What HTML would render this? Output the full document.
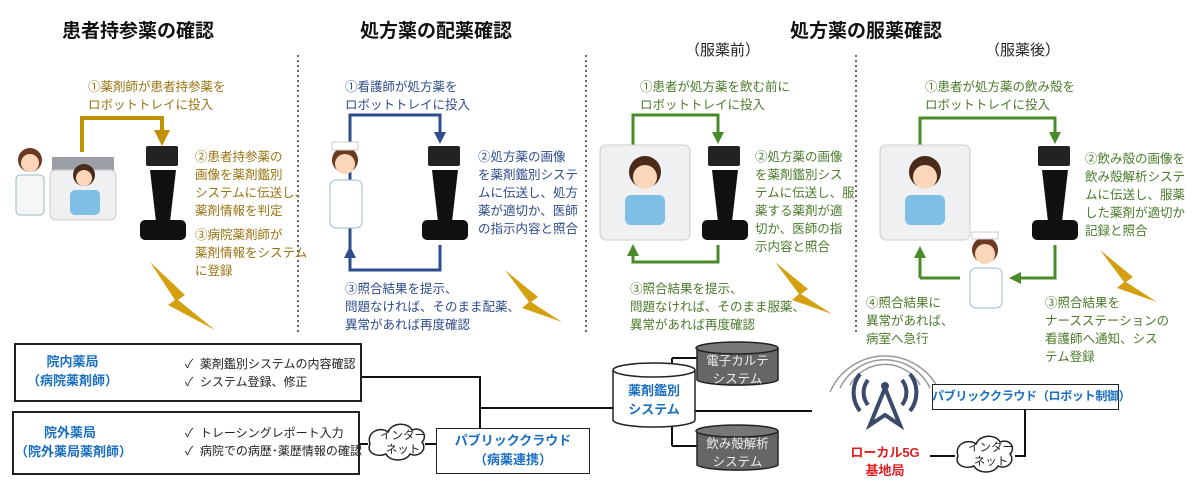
<!DOCTYPE html><html><head><meta charset="utf-8"><style>
body{margin:0;width:1200px;height:483px;background:#fff;overflow:hidden;position:relative;font-family:"Liberation Sans","Noto Sans CJK JP",sans-serif}
.t{position:absolute;font-size:12.5px;line-height:18px;white-space:nowrap}
.h{position:absolute;font-size:19px;font-weight:bold;color:#111;white-space:nowrap}
.g{color:#9a7412}.b{color:#2e4c8c}.gr{color:#4a7a2a}
.box{position:absolute;border:2px solid #222;background:#fff}
.bl{color:#1a6fc0;font-weight:bold;font-size:13px;text-align:center;line-height:19px}
svg{position:absolute;left:0;top:0}
</style></head><body>
<svg width="1200" height="483">
<defs>
<marker id="ag" markerWidth="4" markerHeight="4" refX="2" refY="2" orient="auto"><path d="M0,0L4,2L0,4z" fill="#c09000"/></marker>
<marker id="ab" markerWidth="4" markerHeight="4" refX="2" refY="2" orient="auto"><path d="M0,0L4,2L0,4z" fill="#2e4c8c"/></marker>
<marker id="an" markerWidth="4" markerHeight="4" refX="2" refY="2" orient="auto"><path d="M0,0L4,2L0,4z" fill="#4a8a2a"/></marker>
</defs>
<g stroke="#666" stroke-width="2" stroke-dasharray="2,3">
<line x1="298" y1="55" x2="298" y2="335"/><line x1="586" y1="55" x2="586" y2="335"/><line x1="856" y1="55" x2="856" y2="335"/></g>
<path d="M82,152V118H162V138" fill="none" stroke="#c09000" stroke-width="4" marker-end="url(#ag)"/>
<path d="M350,250V115H440V138" fill="none" stroke="#2e4c8c" stroke-width="3" marker-end="url(#ab)"/>
<path d="M440,245V270H350V252" fill="none" stroke="#2e4c8c" stroke-width="3" marker-end="url(#ab)"/>
<path d="M633,145V115H718V138" fill="none" stroke="#4a8a2a" stroke-width="3" marker-end="url(#an)"/>
<path d="M718,245V262H633V250" fill="none" stroke="#4a8a2a" stroke-width="3" marker-end="url(#an)"/>
<path d="M920,145V118H1055V138" fill="none" stroke="#4a8a2a" stroke-width="3" marker-end="url(#an)"/>
<path d="M1055,245V278H1015" fill="none" stroke="#4a8a2a" stroke-width="3" marker-end="url(#an)"/>
<path d="M920,278H960" fill="none" stroke="#4a8a2a" stroke-width="3"/>
<path d="M920,278V252" fill="none" stroke="#4a8a2a" stroke-width="3" marker-end="url(#an)"/>
<g fill="#d4a010">
<path d="M150,262L185,295L178,300L215,330L168,305L175,300Z"/>
<path d="M505,270L538,297L531,302L562,322L522,308L529,302Z"/>
<path d="M775,262L808,289L801,294L832,314L792,300L799,294Z"/>
<path d="M1100,250L1133,277L1126,282L1157,302L1117,288L1124,282Z"/>
</g>
<g>
<circle cx="30" cy="160" r="12" fill="#6b3a22"/><circle cx="30" cy="163" r="9" fill="#fbd6b8"/><rect x="16" y="175" width="28" height="40" rx="4" fill="#f4f6f8" stroke="#9bb"/>
<rect x="52" y="157" width="62" height="15" fill="#9aa0a6"/><rect x="50" y="170" width="66" height="50" rx="6" fill="#eef0f2" stroke="#ccc"/><circle cx="84" cy="175" r="11" fill="#4a2a1a"/><circle cx="84" cy="178" r="8" fill="#fbd6b8"/><rect x="70" y="190" width="30" height="25" rx="5" fill="#7fbfe6"/>
<rect x="146" y="146" width="32" height="20" rx="2" fill="#222"/><path d="M150,170H176L170,222H156Z" fill="#111"/><rect x="140" y="220" width="46" height="20" rx="5" fill="#111"/>
<circle cx="345" cy="160" r="13" fill="#6b3a22"/><circle cx="345" cy="164" r="10" fill="#fbd6b8"/><rect x="332" y="142" width="26" height="8" fill="#fff" stroke="#ccc"/><rect x="330" y="180" width="32" height="48" rx="6" fill="#fff" stroke="#9bc"/>
<rect x="428" y="146" width="32" height="20" rx="2" fill="#222"/><path d="M432,170H458L452,222H438Z" fill="#111"/><rect x="422" y="220" width="46" height="20" rx="5" fill="#111"/>
<rect x="600" y="145" width="90" height="95" rx="6" fill="#eef0f2" stroke="#ccc"/><circle cx="645" cy="172" r="16" fill="#4a2a1a"/><circle cx="645" cy="177" r="12" fill="#fbd6b8"/><rect x="625" y="195" width="40" height="30" rx="6" fill="#7fbfe6"/>
<rect x="708" y="146" width="32" height="20" rx="2" fill="#222"/><path d="M712,170H738L732,222H718Z" fill="#111"/><rect x="702" y="220" width="46" height="20" rx="5" fill="#111"/>
<rect x="880" y="145" width="90" height="95" rx="6" fill="#eef0f2" stroke="#ccc"/><circle cx="925" cy="172" r="16" fill="#4a2a1a"/><circle cx="925" cy="177" r="12" fill="#fbd6b8"/><rect x="905" y="195" width="40" height="30" rx="6" fill="#7fbfe6"/>
<rect x="1038" y="146" width="32" height="20" rx="2" fill="#222"/><path d="M1042,170H1068L1062,222H1048Z" fill="#111"/><rect x="1032" y="220" width="46" height="20" rx="5" fill="#111"/>
<circle cx="985" cy="250" r="13" fill="#6b3a22"/><circle cx="985" cy="254" r="10" fill="#fbd6b8"/><rect x="972" y="232" width="26" height="7" fill="#fff" stroke="#ccc"/><rect x="970" y="268" width="32" height="40" rx="6" fill="#fff" stroke="#9bc"/>
<circle cx="160" cy="360" r="10" fill="#223"/><circle cx="160" cy="364" r="8" fill="#fbd6b8"/><rect x="145" y="375" width="30" height="20" fill="#dde8f0"/><rect x="165" y="372" width="28" height="20" fill="#9aa4ae"/>
<circle cx="160" cy="425" r="10" fill="#4a2a1a"/><circle cx="160" cy="429" r="8" fill="#fbd6b8"/><rect x="145" y="440" width="30" height="20" fill="#dde8f0"/><rect x="165" y="437" width="28" height="20" fill="#9aa4ae"/>
</g>
<g stroke="#111" stroke-width="2" fill="none">
<path d="M360,377H480V428"/><path d="M480,408H615"/><path d="M358,444H368"/><path d="M425,444H437"/>
<path d="M672,358V446M672,358H700M672,446H700"/><path d="M695,411H812"/>
<path d="M1025,410V456H1015"/><path d="M955,456H930"/>
</g>
<path d="M370,444c-4-12,10-18,18-12c4-10,20-10,24-2c10-4,16,6,10,12c6,8-4,16-12,12c-4,8-20,8-24,0c-10,4-20-2-16-10z" fill="#fff" stroke="#222" stroke-width="1.5"/>
<path d="M958,456c-4-12,10-18,18-12c4-10,20-10,24-2c10-4,16,6,10,12c6,8-4,16-12,12c-4,8-20,8-24,0c-10,4-20-2-16-10z" fill="#fff" stroke="#222" stroke-width="1.5"/>
<g stroke="#222" stroke-width="1.5">
<path d="M613,370V420A41,7 0 0 0 695,420V370" fill="#fff"/><ellipse cx="654" cy="370" rx="41" ry="7" fill="#fff"/>
<path d="M697,348V380A41,6 0 0 0 778,380V348" fill="#666"/><ellipse cx="737" cy="348" rx="41" ry="6" fill="#777"/>
<path d="M697,431V465A41,6 0 0 0 778,465V431" fill="#666"/><ellipse cx="737" cy="431" rx="41" ry="6" fill="#777"/>
</g>
<g fill="none" stroke="#999" stroke-width="1.5">
<path d="M850,385a40,40 0 0 1 70,0M840,388a50,50 0 0 1 90,0M830,392a60,60 0 0 1 110,0"/></g>
<g fill="none" stroke="#3a4a6a" stroke-width="4">
<path d="M868,380a20,20 0 0 0 0,25M902,380a20,20 0 0 1 0,25M860,374a30,30 0 0 0 0,37M910,374a30,30 0 0 1 0,37"/>
<path d="M885,388L870,425L885,415L900,425Z"/></g>
<circle cx="885" cy="386" r="4" fill="#3a4a6a"/>
</svg>
<div class="h" style="left:62px;top:16px">患者持参薬の確認</div>
<div class="h" style="left:360px;top:16px">処方薬の配薬確認</div>
<div class="h" style="left:790px;top:16px">処方薬の服薬確認</div>
<div class="t" style="left:685px;top:42px;font-size:15px;color:#222">（服薬前）</div>
<div class="t" style="left:985px;top:42px;font-size:15px;color:#222">（服薬後）</div>
<div class="t g" style="left:88px;top:78px">①薬剤師が患者持参薬を<br>ロボットトレイに投入</div>
<div class="t g" style="left:195px;top:148px">②患者持参薬の<br>画像を薬剤鑑別<br>システムに伝送し、<br>薬剤情報を判定</div>
<div class="t g" style="left:195px;top:226px">③病院薬剤師が<br>薬剤情報をシステム<br>に登録</div>
<div class="t b" style="left:345px;top:78px">①看護師が処方薬を<br>ロボットトレイに投入</div>
<div class="t b" style="left:478px;top:148px">②処方薬の画像<br>を薬剤鑑別システ<br>ムに伝送し、処方<br>薬が適切か、医師<br>の指示内容と照合</div>
<div class="t b" style="left:345px;top:280px">③照合結果を提示、<br>問題なければ、そのまま配薬、<br>異常があれば再度確認</div>
<div class="t gr" style="left:640px;top:78px">①患者が処方薬を飲む前に<br>ロボットトレイに投入</div>
<div class="t gr" style="left:755px;top:148px">②処方薬の画像<br>を薬剤鑑別シス<br>テムに伝送し、服<br>薬する薬剤が適<br>切か、医師の指<br>示内容と照合</div>
<div class="t gr" style="left:630px;top:280px">③照合結果を提示、<br>問題なければ、そのまま服薬、<br>異常があれば再度確認</div>
<div class="t gr" style="left:925px;top:78px">①患者が処方薬の飲み殻を<br>ロボットトレイに投入</div>
<div class="t gr" style="left:1085px;top:150px">②飲み殻の画像を<br>飲み殻解析システ<br>ムに伝送し、服薬<br>した薬剤が適切か<br>記録と照合</div>
<div class="t gr" style="left:866px;top:294px">④照合結果に<br>異常があれば、<br>病室へ急行</div>
<div class="t gr" style="left:1045px;top:294px">③照合結果を<br>ナースステーションの<br>看護師へ通知、シス<br>テム登録</div>
<div class="box" style="left:14px;top:343px;width:344px;height:55px"></div>
<div class="box" style="left:12px;top:411px;width:344px;height:60px"></div>
<div class="t bl" style="left:25px;top:352px;width:95px">院内薬局<br>（病院薬剤師）</div>
<div class="t bl" style="left:15px;top:423px;width:110px">院外薬局<br>（院外薬局薬剤師）</div>
<div class="t" style="left:185px;top:355px;color:#222;font-size:12px">✓&nbsp; 薬剤鑑別システムの内容確認<br>✓&nbsp; システム登録、修正</div>
<div class="t" style="left:185px;top:424px;color:#222;font-size:12px">✓&nbsp; トレーシングレポート入力<br>✓&nbsp; 病院での病歴･薬歴情報の確認</div>
<div class="t" style="left:380px;top:429px;font-size:11.5px;line-height:14px;text-align:center;color:#222">インター<br>ネット</div>
<div class="t" style="left:968px;top:441px;font-size:11.5px;line-height:14px;text-align:center;color:#222">インター<br>ネット</div>
<div class="box" style="left:436px;top:428px;width:152px;height:44px;border-width:1.5px"></div>
<div class="t bl" style="left:436px;top:431px;width:154px">パブリッククラウド<br>（病薬連携）</div>
<div class="t bl" style="left:613px;top:381px;width:82px">薬剤鑑別<br>システム</div>
<div class="t" style="left:697px;top:352px;width:81px;text-align:center;color:#eee;font-size:12.5px">電子カルテ<br>システム</div>
<div class="t" style="left:697px;top:435px;width:81px;text-align:center;color:#eee;font-size:12.5px">飲み殻解析<br>システム</div>
<div class="t" style="left:840px;top:444px;width:90px;text-align:center;color:#e02020;font-weight:bold;font-size:13px">ローカル5G<br>基地局</div>
<div class="box" style="left:932px;top:384px;width:185px;height:24px;border-width:1.5px"></div>
<div class="t bl" style="left:932px;top:387px;width:188px;font-size:12px;letter-spacing:-0.3px">パブリッククラウド（ロボット制御）</div>
</body></html>
